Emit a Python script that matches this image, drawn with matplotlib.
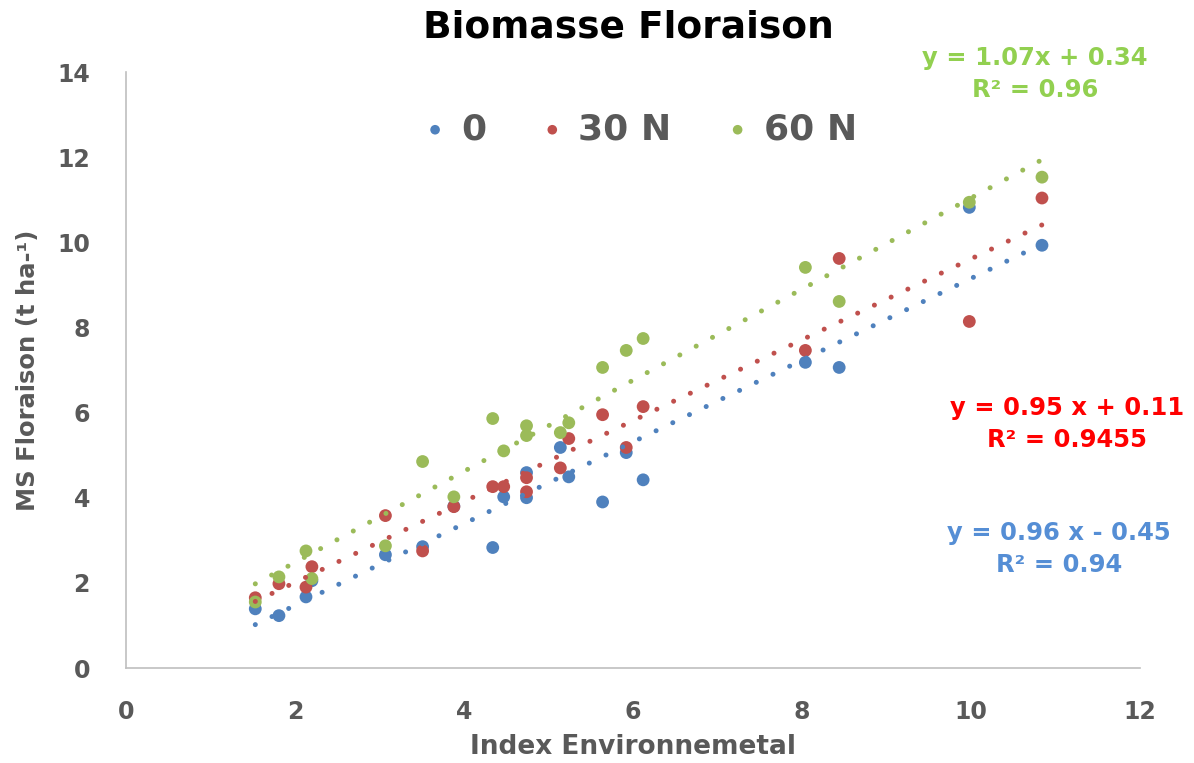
import matplotlib
matplotlib.use("Agg")
import matplotlib.pyplot as plt
import numpy as np

plt.rcParams["font.family"] = ["DejaVu Sans"]
plt.rcParams["font.weight"] = "bold"

# environment index (shared by the three N rates)
env_index = [1.53, 1.81, 2.13, 2.20, 3.07, 3.51, 3.88, 4.34, 4.47, 4.74,
             4.74, 5.14, 5.24, 5.64, 5.92, 6.12, 8.04, 8.44, 9.98, 10.84]
ms_0n = [1.39, 1.23, 1.67, 2.05, 2.66, 2.85, 3.80, 2.83, 4.02, 4.00,
         4.59, 5.18, 4.49, 3.90, 5.06, 4.42, 7.18, 7.06, 10.82, 9.93]
ms_30n = [1.65, 1.98, 1.90, 2.38, 3.58, 2.75, 3.79, 4.26, 4.26, 4.47,
          4.14, 4.70, 5.39, 5.95, 5.18, 6.14, 7.46, 9.62, 8.14, 11.04]
ms_60n = [1.55, 2.14, 2.75, 2.10, 2.87, 4.85, 4.02, 5.86, 5.10, 5.69,
          5.46, 5.53, 5.76, 7.06, 7.46, 7.74, 9.41, 8.61, 10.94, 11.53]

series_names = ["0", "30 N", "60 N"]
series_values = [ms_0n, ms_30n, ms_60n]
marker_colors = ["#4F81BD", "#C0504D", "#9BBB59"]

# trendline coefficients as printed on the chart
trend_slopes = [0.96, 0.95, 1.07]
trend_intercepts = [-0.45, 0.11, 0.34]
trend_labels = ["y = 0.96 x - 0.45\nR² = 0.94",
                "y = 0.95 x + 0.11\nR² = 0.9455",
                "y = 1.07x + 0.34\nR² = 0.96"]
label_colors = ["#558ED5", "#FF0000", "#92D050"]
label_pos = [(1059, 549), (1067, 424), (1035, 74)]

W, H = 1194, 763
fig = plt.figure(figsize=(W / 100, H / 100), dpi=100)
ax = fig.add_axes([126 / W, 1 - 668 / H, (1140 - 126) / W, (668 - 72) / H])

x = np.array(env_index)
handles = []
for name, vals, col in zip(series_names, series_values, marker_colors):
    h = ax.scatter(x, vals, s=85, color=col, edgecolors="none", label=name, zorder=2)
    handles.append(h)

xs = np.array([x.min(), x.max()])
for slope, icpt, col in zip(trend_slopes, trend_intercepts, marker_colors):
    ax.plot(xs, slope * xs + icpt, color=col, lw=3.6,
            linestyle=(0, (0.01, 3.7)), dash_capstyle="round", zorder=3)

ax.set_xlim(0, 12)
ax.set_ylim(0, 14)
ax.set_xticks(range(0, 13, 2))
ax.set_yticks(range(0, 15, 2))
ax.tick_params(length=0, labelsize=17, colors="#595959")
ax.tick_params(axis="x", pad=23)
ax.tick_params(axis="y", pad=26)
for side in ("top", "right"):
    ax.spines[side].set_visible(False)
for side in ("left", "bottom"):
    ax.spines[side].set_color("#BFBFBF")
    ax.spines[side].set_linewidth(1.2)

ax.set_xlabel("Index Environnemetal", fontsize=19, color="#595959",
              fontweight="bold", labelpad=7)
ax.set_ylabel("MS Floraison (t ha-¹)", fontsize=17.5, color="#595959",
              fontweight="bold", labelpad=12)

fig.text(628 / W, 1 - 28 / H, "Biomasse Floraison", fontsize=27,
         fontweight="bold", color="black", ha="center", va="center")

ax.legend(handles=handles, loc="center", bbox_to_anchor=(0.508, 0.904),
          ncol=3, frameon=False, markerscale=0.75, handlelength=0.55,
          handletextpad=0.45, columnspacing=1.55, labelcolor="#595959",
          prop={"weight": "bold", "size": 26})

for txt, col, (px, py) in zip(trend_labels, label_colors, label_pos):
    fig.text(px / W, 1 - py / H, txt, fontsize=17.5, fontweight="bold",
             color=col, ha="center", va="center", linespacing=1.45,
             multialignment="center")

fig.savefig("out.png", dpi=100)
